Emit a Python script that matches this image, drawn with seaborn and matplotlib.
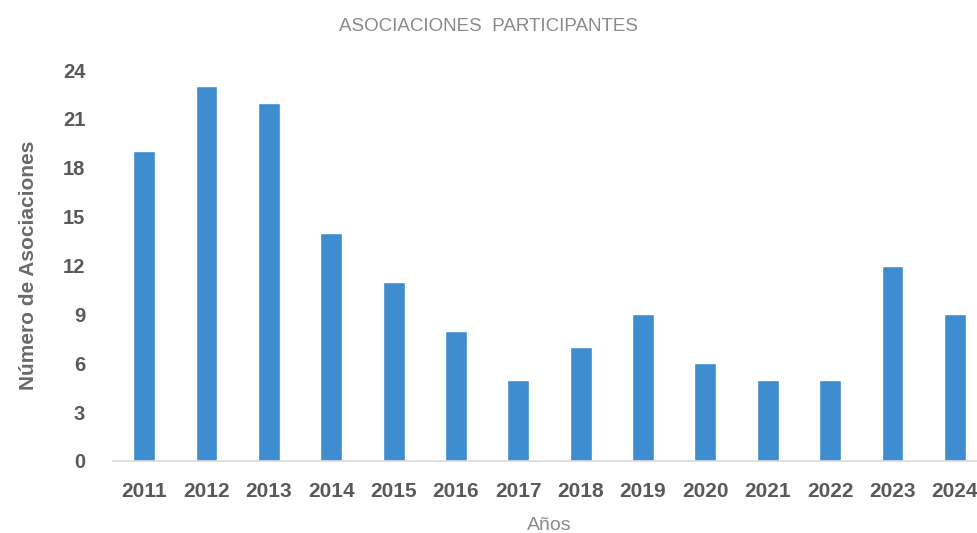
import pandas as pd
import matplotlib
matplotlib.use("Agg")
import matplotlib.pyplot as plt
import seaborn as sns

# -----------------------------
# Data
# -----------------------------
years = ["2011", "2012", "2013", "2014", "2015", "2016", "2017",
         "2018", "2019", "2020", "2021", "2022", "2023", "2024"]
asociaciones = [19, 23, 22, 14, 11, 8, 5, 7, 9, 6, 5, 5, 12, 9]
y_ticks = [0, 3, 6, 9, 12, 15, 18, 21, 24]

df = pd.DataFrame({"year": years, "n": asociaciones})

# -----------------------------
# Plot
# -----------------------------
sns.set_style("white")
plt.rcParams['font.family'] = ['Liberation Sans', 'DejaVu Sans']

fig = plt.figure(figsize=(9.77, 5.33), dpi=100)
ax = fig.add_axes([113 / 977, 72 / 533, 873 / 977, 391 / 533])

sns.barplot(data=df, x="year", y="n", color="#3D8DD0", width=0.35,
            saturation=1, ax=ax)

ax.set_ylim(0, 24)
ax.set_xlim(-0.5, len(years) - 0.5)
ax.set_yticks(y_ticks)
ax.tick_params(axis="both", length=0)
ax.tick_params(axis="y", pad=20)
ax.tick_params(axis="x", pad=15)
for lbl in ax.get_yticklabels():
    lbl.set_fontsize(14.5)
    lbl.set_color("#595959")
    lbl.set_fontweight("bold")
for lbl in ax.get_xticklabels():
    lbl.set_fontsize(15)
    lbl.set_color("#595959")
    lbl.set_fontweight("bold")

sns.despine(ax=ax, left=True)
ax.spines["bottom"].set_color("#d9d9d9")
ax.spines["bottom"].set_linewidth(1.2)

ax.set_xlabel("Años", fontsize=14, color="#8a8a8a", labelpad=12)
ax.set_ylabel("Número de Asociaciones", fontsize=15, fontweight="bold",
              color="#6a6a6a", labelpad=18)
fig.text(0.50, 0.950, "ASOCIACIONES  PARTICIPANTES", ha="center", va="center",
         fontsize=13.5, color="#8a8a8a")

fig.savefig("out.png", dpi=100)
